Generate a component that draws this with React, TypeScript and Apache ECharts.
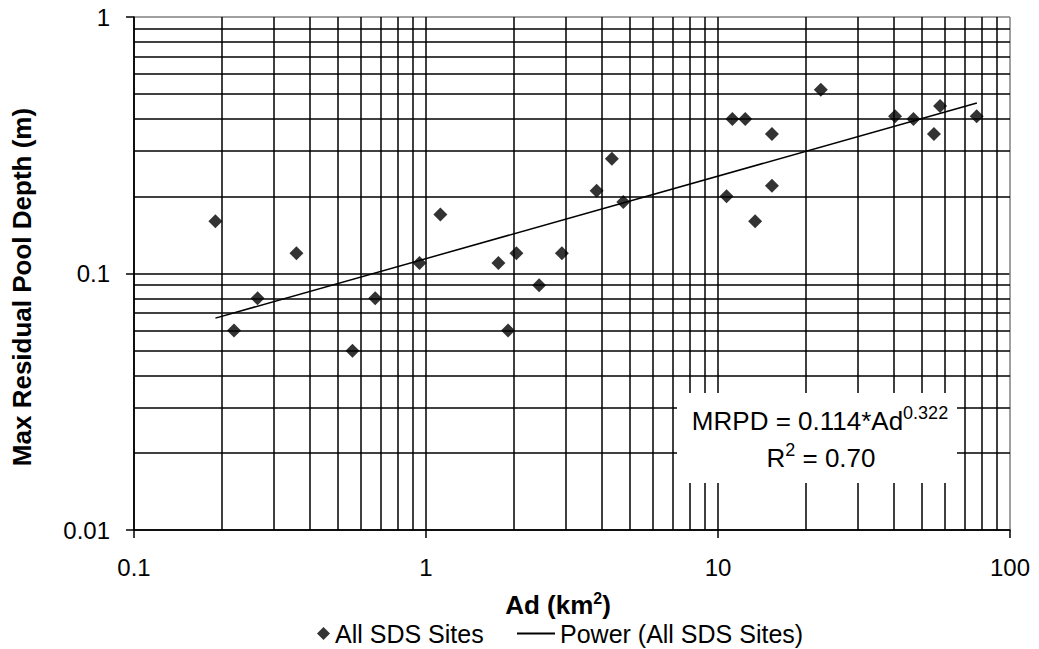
import React, { useEffect, useRef } from "react";
import * as echarts from "echarts";

// ---- data ----
const siteAd: number[] = [
  0.19, 0.22, 0.265, 0.36, 0.56, 0.67, 0.95, 1.12, 1.77, 1.91, 2.04, 2.44, 2.92,
  3.84, 4.33, 4.74, 10.7, 11.2, 12.4, 13.4, 15.3, 15.3, 22.5, 40.4, 46.7, 54.9, 57.6, 76.9,
];
const siteMRPD: number[] = [
  0.16, 0.06, 0.08, 0.12, 0.05, 0.08, 0.11, 0.17, 0.11, 0.06, 0.12, 0.09, 0.12,
  0.21, 0.28, 0.19, 0.2, 0.4, 0.4, 0.16, 0.35, 0.22, 0.52, 0.41, 0.4, 0.35, 0.45, 0.41,
];
// power trend line end points (MRPD = 0.114*Ad^0.322)
const trendAd: number[] = [0.19, 77];
const trendMRPD: number[] = [0.067, 0.462];

const xTickValues: number[] = [0.1, 1, 10, 100];
const xTickLabels: string[] = ["0.1", "1", "10", "100"];
const yTickValues: number[] = [0.01, 0.1, 1];
const yTickLabels: string[] = ["0.01", "0.1", "1"];

const scatterName = "All SDS Sites";
const trendName = "Power (All SDS Sites)";

const FONT = '"Liberation Sans", Arial, sans-serif';

function minorLines(decades: number[]): number[] {
  const out: number[] = [];
  for (let i = 0; i < decades.length - 1; i++) {
    for (let k = 2; k <= 9; k++) out.push(k * decades[i]);
  }
  return out;
}

function labelFor(values: number[], labels: string[], v: number): string {
  let best = 0;
  for (let i = 0; i < values.length; i++) {
    if (Math.abs(Math.log10(values[i]) - Math.log10(v)) < Math.abs(Math.log10(values[best]) - Math.log10(v))) best = i;
  }
  return labels[best];
}

export default function App() {
  const ref = useRef<HTMLDivElement>(null);

  useEffect(() => {
    if (!ref.current) return;
    const chart = echarts.init(ref.current, undefined, { renderer: "svg" });

    const xMinor = minorLines(xTickValues);
    const yMinor = minorLines(yTickValues);

    const option: any = {
      animation: false,
      backgroundColor: "#ffffff",
      grid: { left: 134, right: 29, top: 17, bottom: 119, containLabel: false },
      xAxis: {
        type: "log",
        logBase: 10,
        min: xTickValues[0],
        max: xTickValues[xTickValues.length - 1],
        name: "{b|Ad (km}{s|2}{b|)}",
        nameLocation: "middle",
        nameGap: 60,
        nameTextStyle: {
          padding: [0, 28, 0, 0],
          rich: {
            b: { fontFamily: FONT, fontWeight: "bold", fontSize: 26, color: "#000", lineHeight: 30 },
            s: { fontFamily: FONT, fontWeight: "bold", fontSize: 16, color: "#000", lineHeight: 16, verticalAlign: "top" },
          },
        },
        axisLine: { show: true, lineStyle: { color: "#000", width: 1.5 } },
        axisTick: { show: true, length: 8, lineStyle: { color: "#000", width: 1.5 } },
        axisLabel: {
          margin: 25,
          fontFamily: FONT,
          fontSize: 24,
          color: "#000",
          formatter: (v: number) => labelFor(xTickValues, xTickLabels, v),
        },
        splitLine: { show: true, lineStyle: { color: ["#000", "#000", "#000", "#808080"], width: 1.5 } },
        minorTick: { show: false },
      },
      yAxis: {
        type: "log",
        logBase: 10,
        min: yTickValues[0],
        max: yTickValues[yTickValues.length - 1],
        name: "Max Residual Pool Depth (m)",
        nameLocation: "middle",
        nameRotate: 90,
        nameGap: 99,
        nameTextStyle: {
          fontFamily: FONT,
          fontWeight: "bold",
          fontSize: 26,
          color: "#000",
          padding: [0, 27, 0, 0],
        },
        axisLine: { show: true, lineStyle: { color: "#000", width: 1.5 } },
        axisTick: { show: true, length: 8, lineStyle: { color: "#000", width: 1.5 } },
        axisLabel: {
          margin: 24,
          fontFamily: FONT,
          fontSize: 24,
          color: "#000",
          formatter: (v: number) => labelFor(yTickValues, yTickLabels, v),
        },
        splitLine: { show: true, lineStyle: { color: ["#000", "#000", "#808080"], width: 1.5 } },
      },
      legend: [
        {
          data: [{ name: scatterName, icon: "diamond" }],
          left: 317,
          top: 621,
          padding: 0,
          itemWidth: 13,
          itemHeight: 13,
          selectedMode: false,
          textStyle: { fontFamily: FONT, fontSize: 25, color: "#000" },
        },
        {
          data: [{ name: trendName, icon: "rect", itemStyle: { color: "#000" } }],
          left: 517,
          top: 621,
          padding: 0,
          itemWidth: 38,
          itemHeight: 2,
          selectedMode: false,
          textStyle: { fontFamily: FONT, fontSize: 25, color: "#000" },
        },
      ],
      series: [
        {
          name: trendName,
          type: "line",
          z: 2,
          data: trendAd.map((x, i) => [x, trendMRPD[i]]),
          symbol: "none",
          showSymbol: false,
          lineStyle: { color: "#000", width: 1.5 },
          itemStyle: { color: "#000" },
          silent: true,
          markLine: {
            silent: true,
            symbol: ["none", "none"],
            label: { show: false },
            lineStyle: { color: "#000", width: 1.5, type: "solid" },
            emphasis: { disabled: true },
            data: [
              ...xMinor.map((v) => ({ xAxis: v })),
              ...yMinor.map((v) => ({ yAxis: v })),
            ],
          },
        },
        {
          name: scatterName,
          type: "scatter",
          z: 3,
          symbol: "diamond",
          symbolSize: 14,
          itemStyle: { color: "#000" },
          data: siteAd.map((x, i) => [x, siteMRPD[i]]),
        },
      ],
      graphic: [
        {
          type: "rect",
          z: 50,
          shape: { x: 677, y: 393, width: 280, height: 90 },
          style: { fill: "#ffffff" },
        },
        {
          type: "text",
          z: 51,
          x: 820,
          y: 421,
          style: {
            text: "{a|MRPD = 0.114*Ad}{s|0.322}",
            align: "center",
            verticalAlign: "middle",
            textAlign: "center",
            textVerticalAlign: "middle",
            rich: {
              a: { fontFamily: FONT, fontSize: 26, fill: "#000", color: "#000", lineHeight: 34 },
              s: { fontFamily: FONT, fontSize: 18, fill: "#000", color: "#000", lineHeight: 18, verticalAlign: "top" },
            },
          },
        },
        {
          type: "text",
          z: 51,
          x: 821,
          y: 458,
          style: {
            text: "{a|R}{s|2}{a| = 0.70}",
            align: "center",
            verticalAlign: "middle",
            textAlign: "center",
            textVerticalAlign: "middle",
            rich: {
              a: { fontFamily: FONT, fontSize: 26, fill: "#000", color: "#000", lineHeight: 34 },
              s: { fontFamily: FONT, fontSize: 18, fill: "#000", color: "#000", lineHeight: 18, verticalAlign: "top" },
            },
          },
        },
      ],
    };

    chart.setOption(option);
    return () => chart.dispose();
  }, []);

  return (
    <div
      ref={ref}
      style={{ position: "fixed", left: 0, top: 0, width: 1039, height: 649, background: "#fff" }}
    />
  );
}
